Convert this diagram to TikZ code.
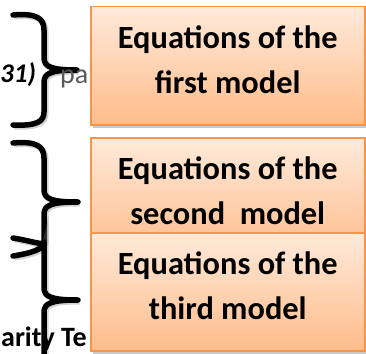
\documentclass[tikz,border=0pt]{standalone}
\usepackage{fontspec}
\setmainfont{Carlito}
\definecolor{eqline}{RGB}{247, 150, 70}
\definecolor{eqtop}{RGB}{255, 234, 219}
\definecolor{eqbottom}{RGB}{255, 188, 138}
\definecolor{popgray}{RGB}{89, 89, 89}
\usetikzlibrary{shadows}

\begin{document}
\begin{tikzpicture}[x=1pt, y=-1pt,
    modelbox/.style={draw=eqline, line width=1.5pt, top color=eqtop, bottom color=eqbottom,
      minimum width=274pt, minimum height=118pt, anchor=north west, align=center,
      text depth=13pt, font=\fontsize{32.4}{45}\selectfont\bfseries,
      drop shadow={shadow xshift=2pt, shadow yshift=-3pt, opacity=0.3, fill=black!70}},
    curly/.style={line width=5.5pt, line cap=round, line join=round,
      preaction={draw=black!50, opacity=0.35, line width=6pt,
        transform canvas={shift={(1.5pt,-1.5pt)}}}}]
  \useasboundingbox (0,0) rectangle (366,353);

  % the braces on the left
  \draw[curly] (13,15) .. controls (36,13) and (44,18) .. (44,30) -- (44,58)
    .. controls (44,67) and (52,70) .. (77,70)
    .. controls (52,70) and (44,73) .. (44,82) -- (44,112)
    .. controls (44,122) and (36,126) .. (13,125);
  \draw[curly] (13,143) .. controls (36,141) and (44,146) .. (44,158) -- (44,190)
    .. controls (44,199) and (52,202) .. (78,202)
    .. controls (52,202) and (44,205) .. (44,214) -- (44,242)
    .. controls (44,246) and (32,241) .. (13,238);
  \draw[curly] (13,256) .. controls (32,253) and (44,249) .. (44,242) -- (44,288)
    .. controls (44,297) and (52,300) .. (78,300)
    .. controls (52,300) and (44,303) .. (44,312) -- (44,360);

  % text left over behind the braces
  \node[anchor=base west, inner sep=0pt, font=\fontsize{27}{30}\selectfont\bfseries\itshape] (ref) at (0,82) {31)};
  \node[anchor=base west, inner sep=0pt, text=popgray, font=\fontsize{28}{30}\selectfont] (pa) at (60,83) {pa};
  \node[anchor=base west, inner sep=0pt, font=\fontsize{28}{30}\selectfont\bfseries] (test) at (1,346) {arity Te};

  % the three models
  \node[modelbox] (first) at (90,6) {Equations of the\\first model};
  \node[modelbox] (second) at (90,137) {Equations of the\\second\ \ model};
  \node[modelbox] (third) at (90,232) {Equations of the\\third model};
\end{tikzpicture}
\end{document}
